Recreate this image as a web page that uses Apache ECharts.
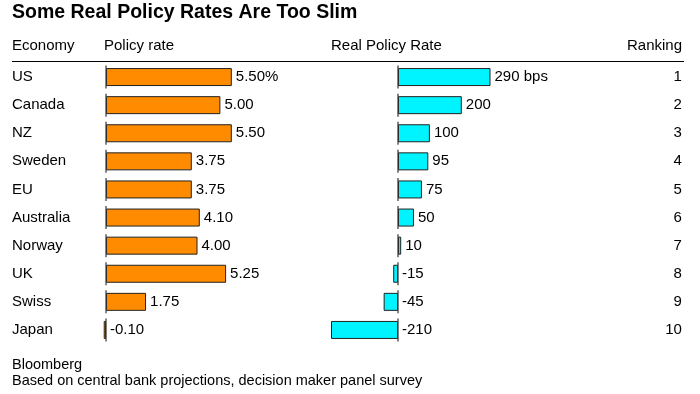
<!DOCTYPE html>
<html>
<head>
<meta charset="utf-8">
<script src="https://cdn.jsdelivr.net/npm/echarts@6/dist/echarts.min.js"></script>
<style>
html,body{margin:0;padding:0;background:#fff;}
#c{width:700px;height:394px;}
</style>
</head>
<body>
<div id="c"></div>
<script>
var economies = ['US','Canada','NZ','Sweden','EU','Australia','Norway','UK','Swiss','Japan'];
var policyRate = [5.50, 5.00, 5.50, 3.75, 3.75, 4.10, 4.00, 5.25, 1.75, -0.10];
var realRateBps = [290, 200, 100, 95, 75, 50, 10, -15, -45, -210];
var rankings = [1,2,3,4,5,6,7,8,9,10];

var FONT = '"Liberation Sans", Arial, sans-serif';
var chart = echarts.init(document.getElementById('c'), null, {renderer:'canvas'});

var zeroMarks = economies.map(function(c){ return [0, c]; });

var option = {
  animation: false,
  textStyle: {fontFamily: FONT},
  grid: [
    {left: 100.3, width: 188.7, top: 63, height: 281},
    {left: 318.25, width: 223.3, top: 63, height: 281}
  ],
  xAxis: [
    {gridIndex:0, type:'value', min:-0.25, max:8, show:false},
    {gridIndex:1, type:'value', min:-250, max:450, show:false}
  ],
  yAxis: [
    {gridIndex:0, type:'category', data: economies, inverse:true,
     axisLine:{show:false}, axisTick:{show:false},
     axisLabel:{align:'left', margin:88.3, color:'#000', fontSize:15, fontFamily:FONT}},
    {gridIndex:1, type:'category', data: economies, inverse:true, position:'right',
     axisLine:{show:false}, axisTick:{show:false},
     axisLabel:{align:'right', margin:140.4, color:'#000', fontSize:15, fontFamily:FONT,
       formatter:function(v, i){ return String(rankings[i]); }}}
  ],
  graphic: [
    {type:'text', left:12, top:2.5, style:{text:'Some Real Policy Rates Are Too Slim', font:'bold 19.5px '+FONT, fill:'#000'}},
    {type:'text', left:12, top:38, style:{text:'Economy', font:'15px '+FONT, fill:'#000'}},
    {type:'text', left:104, top:38, style:{text:'Policy rate', font:'15px '+FONT, fill:'#000'}},
    {type:'text', left:331, top:38, style:{text:'Real Policy Rate', font:'15px '+FONT, fill:'#000'}},
    {type:'text', right:18, top:38, style:{text:'Ranking', font:'15px '+FONT, fill:'#000'}},
    {type:'line', shape:{x1:12, y1:61.5, x2:684, y2:61.5}, style:{stroke:'#000', lineWidth:1}},
    {type:'text', left:12, top:357.5, style:{text:'Bloomberg', font:'14.5px '+FONT, fill:'#000'}},
    {type:'text', left:12, top:373.5, style:{text:'Based on central bank projections, decision maker panel survey', font:'14.5px '+FONT, fill:'#000'}}
  ],
  series: [
    {type:'bar', xAxisIndex:0, yAxisIndex:0, data: policyRate, barWidth:18,
     itemStyle:{color:'#ff8c00', borderColor:'#222', borderWidth:1},
     label:{show:true, position:'right', distance:4, color:'#000', fontSize:15, fontFamily:FONT,
       formatter:function(p){ return p.value.toFixed(2) + (p.dataIndex===0?'%':''); }}},
    {type:'bar', xAxisIndex:1, yAxisIndex:1, data: realRateBps, barWidth:18,
     itemStyle:{color:'#00f4ff', borderColor:'#222', borderWidth:1},
     label:{show:true, position:'right', distance:4, color:'#000', fontSize:15, fontFamily:FONT,
       formatter:function(p){ return p.value + (p.dataIndex===0?' bps':''); }}},
    {type:'scatter', xAxisIndex:0, yAxisIndex:0, data: zeroMarks, symbol:'rect', symbolSize:[1.5,23],
     itemStyle:{color:'#333'}, silent:true, z:5},
    {type:'scatter', xAxisIndex:1, yAxisIndex:1, data: zeroMarks, symbol:'rect', symbolSize:[1.5,23],
     itemStyle:{color:'#333'}, silent:true, z:5}
  ]
};
chart.setOption(option);
</script>
</body>
</html>
